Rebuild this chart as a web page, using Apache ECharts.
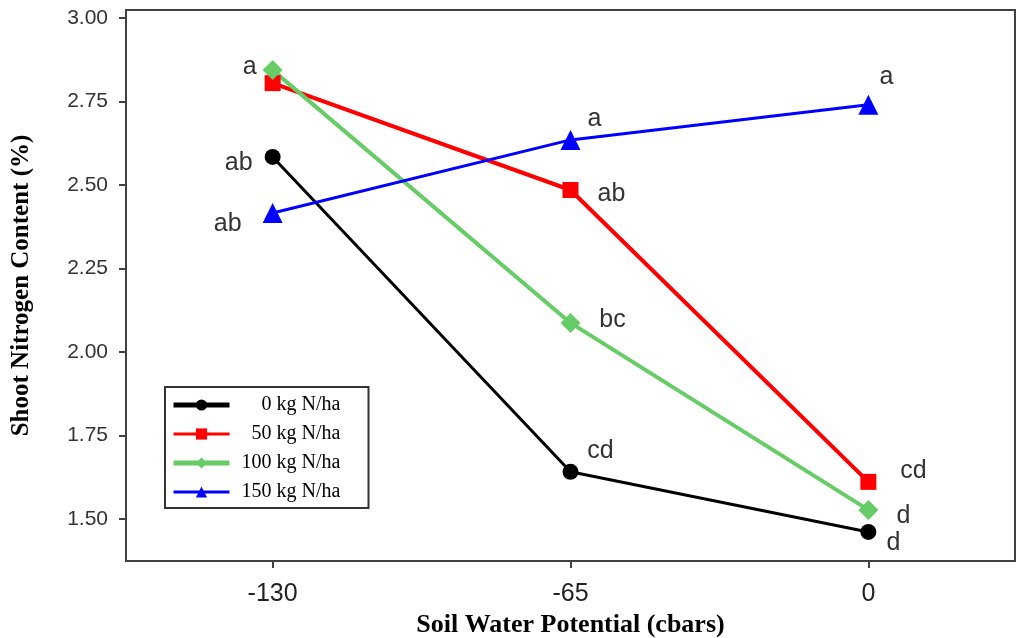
<!DOCTYPE html>
<html>
<head>
<meta charset="utf-8">
<script src="https://cdn.jsdelivr.net/npm/echarts@6/dist/echarts.min.js"></script>
<style>
html,body{margin:0;padding:0;background:#fff;}
#chart{width:1019px;height:638px;}
</style>
</head>
<body>
<div id="chart"></div>
<script>
// ---- data ----
var xValues = [-130, -65, 0];
var seriesNames = ['0 kg N/ha', '50 kg N/ha', '100 kg N/ha', '150 kg N/ha'];
var n0   = [2.584, 1.641, 1.461];
var n50  = [2.805, 2.485, 1.611];
var n100 = [2.844, 2.087, 1.527];
var n150 = [2.416, 2.635, 2.740];
var letters0   = ['ab', 'cd', 'd'];
var letters50  = ['', 'ab', 'cd'];
var letters100 = ['a', 'bc', 'd'];
var letters150 = ['ab', 'a', 'a'];
var yTicks = [1.50, 1.75, 2.00, 2.25, 2.50, 2.75, 3.00];
var xTicks = [-130, -65, 0];

// ---- layout (label placement relative to markers, px) ----
var offsets0   = [[-34, 6], [30, -21], [25, 11]];
var offsets50  = [[0, 0], [41, 4], [45, -11]];
var offsets100 = [[-23, -3], [42, -3], [35, 6]];
var offsets150 = [[-45, 11], [24, -21], [18, -28]];

function buildData(vals, letters, offs) {
  return xValues.map(function (x, i) {
    return {
      value: [x, vals[i]],
      label: {
        show: letters[i] !== '',
        formatter: letters[i],
        position: 'inside',
        align: 'center',
        verticalAlign: 'middle',
        offset: offs[i],
        color: '#333',
        fontFamily: 'Liberation Sans, Arial, sans-serif',
        fontSize: 25
      }
    };
  });
}

function mkSeries(name, vals, letters, offs, color, width, symbol, size) {
  return {
    name: name,
    type: 'line',
    data: buildData(vals, letters, offs),
    symbol: symbol,
    symbolSize: size,
    lineStyle: { color: color, width: width },
    itemStyle: { color: color },
    emphasis: { disabled: true },
    z: 3
  };
}

var legendStyles = [
  { lineStyle: { width: 5 } },
  { lineStyle: { width: 3 } },
  { lineStyle: { width: 5 } },
  { lineStyle: { width: 3 } }
];

var chart = echarts.init(document.getElementById('chart'), null, { renderer: 'canvas' });
chart.setOption({
  animation: false,
  backgroundColor: '#fff',
  grid: {
    left: 126, right: 4, top: 10, bottom: 77,
    outerBoundsMode: 'none',
    containLabel: false,
    show: true, borderColor: '#404040', borderWidth: 2, backgroundColor: 'transparent'
  },
  xAxis: {
    type: 'value',
    min: -162, max: 32,
    name: 'Soil Water Potential (cbars)',
    nameLocation: 'middle',
    nameGap: 50,
    nameTextStyle: { fontFamily: 'Liberation Serif, Times New Roman, serif', fontWeight: 'bold', fontSize: 26, color: '#000' },
    axisLine: { show: true, onZero: false, lineStyle: { color: '#404040', width: 2 } },
    axisTick: { show: true, inside: false, length: 7, customValues: xTicks, lineStyle: { color: '#404040', width: 2 } },
    axisLabel: {
      customValues: xTicks, margin: 21,
      fontFamily: 'Liberation Sans Narrow, Liberation Sans, Arial, sans-serif', fontSize: 25, color: '#222'
    },
    splitLine: { show: false }
  },
  yAxis: {
    type: 'value',
    min: 1.374, max: 3.024,
    name: 'Shoot Nitrogen Content (%)',
    nameLocation: 'middle',
    nameGap: 92,
    nameTextStyle: { fontFamily: 'Liberation Serif, Times New Roman, serif', fontWeight: 'bold', fontSize: 25, color: '#000' },
    axisLine: { show: true, onZero: false, lineStyle: { color: '#404040', width: 2 } },
    axisTick: { show: true, inside: false, length: 7, customValues: yTicks, lineStyle: { color: '#404040', width: 2 } },
    axisLabel: {
      customValues: yTicks, margin: 18,
      formatter: function (v) { return v.toFixed(2); },
      fontFamily: 'Liberation Sans, Arial, sans-serif', fontSize: 21, color: '#333'
    },
    splitLine: { show: false }
  },
  legend: {
    orient: 'vertical',
    left: 165, top: 387,
    padding: [8, 28, 6, 6],
    itemWidth: 56, itemHeight: 14, itemGap: 9,
    borderColor: '#333', borderWidth: 2, backgroundColor: '#fff',
    data: seriesNames.map(function (n, i) {
      return { name: n, lineStyle: legendStyles[i].lineStyle };
    }),
    formatter: function (name) { return '{r|' + name + '}'; },
    textStyle: {
      rich: {
        r: { width: 106, align: 'right', fontFamily: 'Liberation Serif, Times New Roman, serif', fontSize: 20, color: '#000' }
      }
    }
  },
  series: [
    mkSeries(seriesNames[0], n0, letters0, offsets0, '#000000', 3, 'circle', 16),
    mkSeries(seriesNames[1], n50, letters50, offsets50, '#ff0000', 4, 'rect', 16),
    mkSeries(seriesNames[2], n100, letters100, offsets100, '#66cc66', 4, 'diamond', 20),
    mkSeries(seriesNames[3], n150, letters150, offsets150, '#0000ff', 3, 'triangle', 20)
  ]
});
</script>
</body>
</html>
